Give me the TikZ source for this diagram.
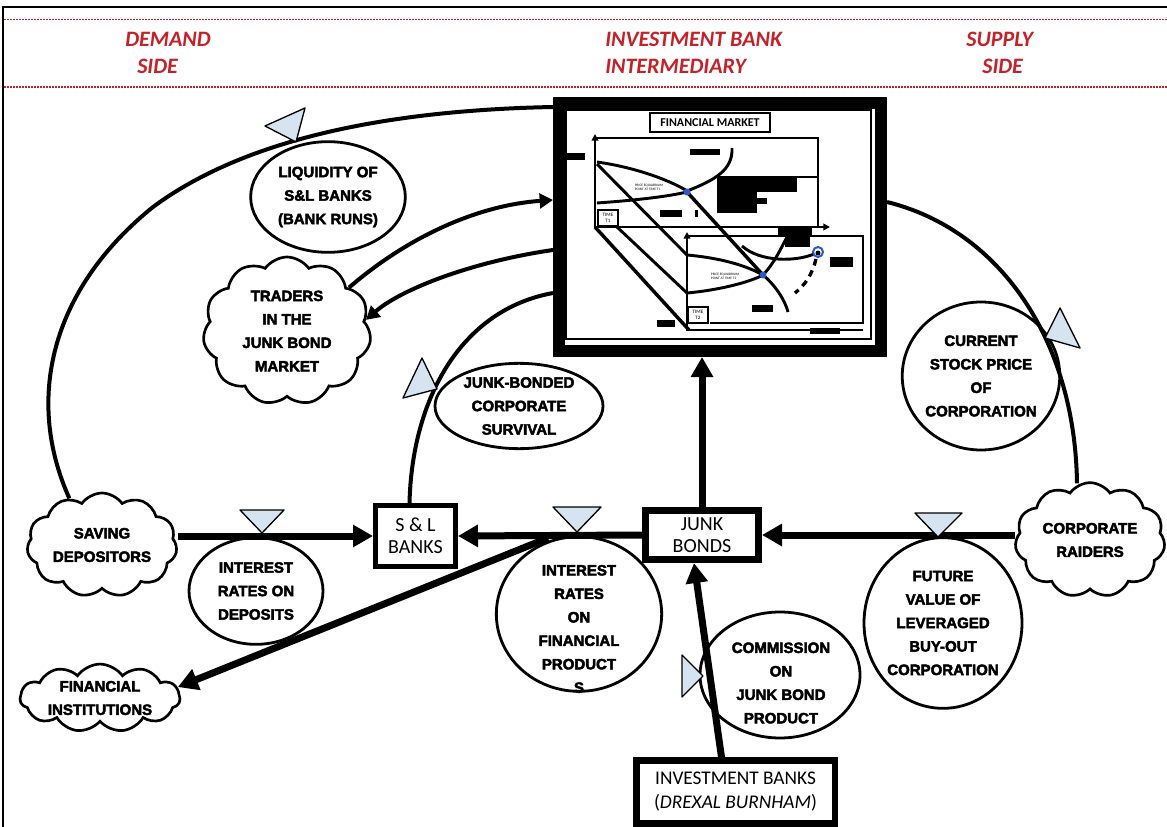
\documentclass[tikz,border=0pt]{standalone}
\usepackage{fontspec}
\setmainfont{Carlito}
\newfontfamily\heavy{Liberation Sans}[BoldFeatures={FakeBold=3}]
\usetikzlibrary{arrows.meta,shapes.geometric,shapes.symbols,calc}
\definecolor{hdrred}{RGB}{198,32,40}
\definecolor{valveblue}{RGB}{214,228,242}
\definecolor{eqblue}{RGB}{40,90,200}
\newcommand\ellfont{\heavy\bfseries\fontsize{11.25}{17.6}\selectfont}
\tikzset{
 hdr/.style={text=hdrred, font=\fontsize{16.5}{19}\selectfont\bfseries\itshape, anchor=west, inner sep=0},
 ell/.style={draw, ellipse, line width=2.1pt, inner sep=0, align=center, font=\ellfont},
 cld/.style={draw, cloud, cloud puffs=11, cloud puff arc=110, cloud ignores aspect, line width=2pt, inner sep=0, align=center, font=\ellfont},
 stock/.style={draw, rectangle, line width=5pt, fill=white, inner sep=0, align=center, font=\fontsize{15}{16.5}\selectfont},
 flow/.style={line width=5.25pt, -{Triangle[length=15pt,width=16pt]}},
 link/.style={line width=3pt},
 linkarrow/.style={line width=3pt, -{Triangle[length=10pt,width=11pt]}},
 valve/.style={fill=valveblue, draw=black, line width=1pt, line join=round},
 blob/.style={fill=black},
 thinline/.style={line width=1.6pt},
 axis/.style={line width=1.6pt, -{Triangle[length=5pt,width=5pt]}},
 curve/.style={line width=2.2pt},
 tiny/.style={font=\fontsize{2.6}{3}\selectfont, align=left, inner sep=0},
 timebox/.style={draw, line width=0.8pt, fill=white, font=\fontsize{3.8}{4.2}\selectfont, align=center, minimum width=15pt, minimum height=12pt, inner sep=0},
}
\begin{document}
\begin{tikzpicture}[x=0.75pt,y=-0.75pt]
\useasboundingbox (0,0) rectangle (1167,827);
% frame and header
\draw[line width=1.5pt] (3,827) -- (3,7) -- (1167,7);
\draw[hdrred, line width=0.8pt, dash pattern=on 1.5pt off 0.75pt] (4,19.5) -- (1167,19.5);
\draw[hdrred, line width=0.8pt, dash pattern=on 1.5pt off 0.75pt] (4,87) -- (1167,87);
\node[hdr] (dem1) at (125,39) {DEMAND};
\node[hdr] (dem2) at (137,66) {SIDE};
\node[hdr] (ib1) at (605,39) {INVESTMENT BANK};
\node[hdr] (ib2) at (605,66) {INTERMEDIARY};
\node[hdr] (sup1) at (966,39) {SUPPLY};
\node[hdr] (sup2) at (982,66) {SIDE};

% financial market box
\node[draw, line width=9pt, fill=white, minimum width=241.5pt, minimum height=186pt, inner sep=0] (fm) at (720,227) {};
\draw[thinline] (566,110) rectangle (871,339);
\node[draw, fill=white, line width=1.2pt, font=\bfseries\fontsize{9}{10}\selectfont, minimum width=90pt, minimum height=14pt, inner sep=1pt] (fmlab) at (710,122.5) {FINANCIAL MARKET};
% upper chart
\draw[axis] (595,228) -- (595,134);
\draw[thinline] (595,138) -- (818,138) -- (818,227);
\draw[axis] (595,227) -- (830,227);
\draw[thinline] (717,177) -- (818,177);
\fill[blob] (717,178) rectangle (797,192);
\fill[blob] (717,192) rectangle (757,213);
\fill[blob] (757,198) rectangle (767,204);
\fill[blob] (567,153) rectangle (585,160);
\fill[blob] (690,149) rectangle (720,155);
\fill[blob] (660,210) rectangle (682,217);
\fill[blob] (695,210) rectangle (698,217);
\draw[curve] (597,162) .. controls (640,168) and (675,183) .. (687,191) .. controls (715,180) and (733,170) .. (732,148);
\draw[curve] (597,203) .. controls (640,200) and (670,196) .. (687,192);
\node[timebox] (t1) at (608,218) {TIME\\T1};
\node[tiny] (eq1) at (649,187) {PRICE EQUILIBRIUM\\POINT AT TIME T1};
% perspective lines
\draw[curve] (597,164) -- (687,255);
\draw[curve] (617,227) -- (687,293);
\draw[line width=2.6pt] (595,227) -- (689,330);
\draw[line width=2.6pt] (687,192) -- (763,275);
% lower chart
\draw[axis] (687,331) -- (687,232);
\draw[thinline] (687,236) -- (863,236) -- (863,323) -- (710,323);
\draw[thinline] (687,330) -- (863,330);
\draw[curve] (687,255) .. controls (720,258) and (745,265) .. (763,275) .. controls (775,285) and (785,300) .. (788,312);
\draw[curve] (687,293) .. controls (720,290) and (750,282) .. (763,275) .. controls (775,262) and (780,250) .. (787,237);
\draw[curve] (742,246) .. controls (760,262) and (795,262) .. (814,254);
\draw[line width=2.5pt, dash pattern=on 5pt off 4pt] (816,259) .. controls (812,275) and (805,285) .. (795,293);
\fill[blob] (778,228) rectangle (812,237);
\fill[blob] (785,237) rectangle (810,247);
\fill[blob] (830,257) rectangle (853,267);
\fill[blob] (752,305) rectangle (773,312);
\fill[blob] (657,320) rectangle (675,327);
\fill[blob] (810,328) rectangle (840,334);
\node[timebox] (t2) at (698,315) {TIME\\T2};
\node[tiny] (eq2) at (725,276) {PRICE EQUILIBRIUM\\POINT AT TIME T2};
\fill[eqblue] (687,192) circle (3.5);
\fill[eqblue] (763,275) circle (3.5);
\draw[eqblue, line width=1.5pt] (818,252) circle (5);
\fill[black] (818,253) circle (2.5);

% main nodes
\node[ell, minimum width=116pt, minimum height=83pt] (liq) at (328,197) {LIQUIDITY OF\\S\&L BANKS\\(BANK RUNS)};
\node[cld, minimum width=126pt, minimum height=111pt] (tr) at (287,331) {TRADERS\\IN THE\\JUNK BOND\\MARKET};
\node[ell, minimum width=126pt, minimum height=64pt] (jbc) at (519,406) {JUNK-BONDED\\CORPORATE\\SURVIVAL};
\node[cld, minimum width=112.5pt, minimum height=78pt] (sd) at (102,545) {SAVING\\DEPOSITORS};
\node[ell, minimum width=100.5pt, minimum height=80pt] (ird) at (256,591) {INTEREST\\RATES ON\\DEPOSITS};
\node[cld, minimum width=120pt, minimum height=50pt] (fi) at (100,698) {FINANCIAL\\INSTITUTIONS};
\node[stock, line width=3.75pt, minimum width=60pt, minimum height=46pt] (sl) at (415.5,536) {S \& L\\BANKS};
\node[stock, minimum width=85pt, minimum height=37pt] (jb) at (702,535) {JUNK\\BONDS};
\node[ell, minimum width=124pt, minimum height=116pt] (irp) at (579,614) {};
\node[font=\ellfont, align=center, inner sep=0] (irptext) at (579,629) {INTEREST\\RATES\\ON\\FINANCIAL\\PRODUCT\\S};
\node[ell, minimum width=120pt, minimum height=94.5pt] (com) at (780,675) {};
\node[font=\ellfont, align=center, inner sep=0] (comtext) at (781,683) {COMMISSION\\ON\\JUNK BOND\\PRODUCT};
\node[ell, minimum width=118.5pt, minimum height=128pt] (fv) at (943,623) {FUTURE\\VALUE OF\\LEVERAGED\\BUY-OUT\\CORPORATION};
\node[ell, minimum width=106.5pt, minimum height=111pt] (csp) at (981,376) {CURRENT\\STOCK PRICE\\OF\\CORPORATION};
\node[cld, minimum width=112.5pt, minimum height=86pt] (cr) at (1090,540) {CORPORATE\\RAIDERS};
\node[stock, minimum width=149pt, minimum height=47pt, font=\fontsize{14.5}{18}\selectfont] (ib) at (735.5,792) {INVESTMENT BANKS\\(\textit{DREXAL BURNHAM})};

% flows
\draw[flow] (sd.east |- sl.west) -- (sl.west);
\draw[flow] (jb.west) -- (sl.east);
\draw[flow] (cr.west |- jb.east) -- (jb.east);
\draw[flow] (jb.north) -- (jb.north |- fm.south);
\draw[flow] ($(ib.north)+(-14,0)$) -- ($(jb.south)+(-8,0)$);
\coordinate (split) at (548,538);
\draw[flow] (split) -- (fi.8);

% links
\draw[link] (sd.125) .. controls (25,400) and (50,290) .. (153,207) .. controls (250,135) and (400,110) .. (fm.west |- 0,107);
\draw[link] ($(sl.north)+(-6,0)$) .. controls (412,400) and (460,310) .. (fm.west |- 0,293);
\draw[link] (fm.east |- 0,202) .. controls (1000,230) and (1075,340) .. ($(cr.north)+(-13,2)$);
\draw[linkarrow] (tr.35) .. controls (410,235) and (480,205) .. (fm.west |- 0,200);
\draw[linkarrow] (fm.west |- 0,250) .. controls (470,262) and (400,290) .. (tr.8);

% valves
\filldraw[valve] (265,126) -- (305,108) -- (296,142) -- cycle;
\filldraw[valve] (403,398) -- (422,358) -- (437,389) -- cycle;
\filldraw[valve] (240,510) -- (284,510) -- (262,533) -- cycle;
\filldraw[valve] (553,507) -- (601,507) -- (577,532) -- cycle;
\filldraw[valve] (915,513) -- (962,513) -- (938,537) -- cycle;
\filldraw[valve] (682,655) -- (682,697) -- (703,676) -- cycle;
\filldraw[valve] (1045,338) -- (1060,308) -- (1080,348) -- cycle;
\end{tikzpicture}
\end{document}
